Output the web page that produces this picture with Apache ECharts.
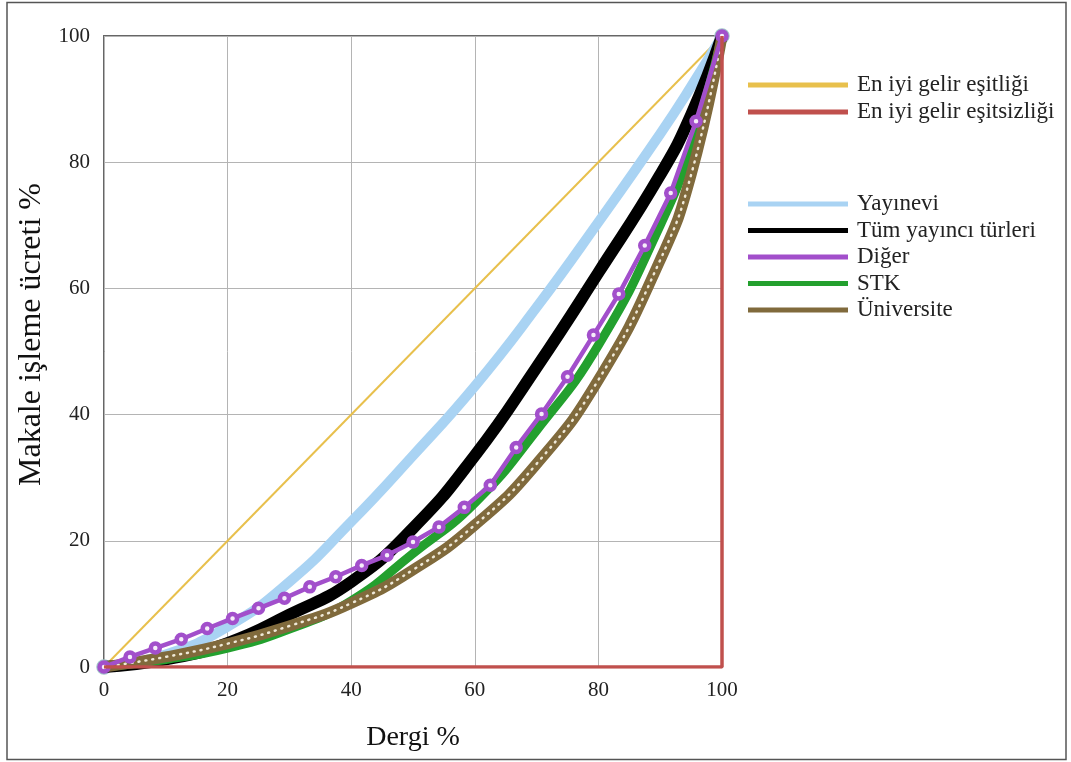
<!DOCTYPE html>
<html>
<head>
<meta charset="utf-8">
<script src="https://cdn.jsdelivr.net/npm/echarts@6/dist/echarts.min.js"></script>
<style>
  html, body { margin: 0; padding: 0; background: #fff; }
  #chart { width: 1071px; height: 762px; }
</style>
</head>
<body>
<div id="chart"></div>
<script>
// x positions (Dergi %) shared by the smooth curves
const curveX = [0, 10, 20, 30, 40, 50, 60, 70, 80, 90, 95, 100]
const yayineviY = [0, 2, 6.4, 13.5, 23, 33.5, 44.5, 57, 70.5, 84.5, 92, 100]
const tumY = [0, 1.2, 3.8, 8.3, 13.5, 22, 33.5, 47.5, 62.5, 78, 87.5, 100]
const stkY = [0, 1.2, 3, 6, 10.5, 18, 26, 37.5, 51, 70, 82.5, 100]
const universiteY = [0, 1.6, 3.7, 6.5, 10.1, 15.4, 22.5, 32.2, 45.5, 64.5, 78, 100]

// Diğer is drawn with its own markers
const digerX = [0, 4.2, 8.3, 12.5, 16.7, 20.8, 25, 29.2, 33.3, 37.5, 41.7, 45.8, 50,
  54.2, 58.3, 62.5, 66.7, 70.8, 75, 79.2, 83.3, 87.5, 91.7, 95.8, 100]
const digerY = [0, 1.6, 3.0, 4.4, 6.1, 7.7, 9.3, 10.9, 12.7, 14.3, 16.1, 17.7, 19.8,
  22.2, 25.3, 28.8, 34.8, 40.1, 46.0, 52.6, 59.1, 66.8, 75.1, 86.5, 100]

// reference lines
const esitlikX = [0, 100]
const esitlikY = [0, 100]
const esitsizlikX = [0, 100, 100]
const esitsizlikY = [0, 0, 100]

const axisTicks = [0, 20, 40, 60, 80, 100]

const font = 'Liberation Serif, Times New Roman, serif'

function pairs(xs, ys) {
  return xs.map((x, i) => [x, ys[i]])
}

const chart = echarts.init(document.getElementById('chart'))

const legendText = { fontFamily: font, fontSize: 23, color: '#222', lineHeight: 26, padding: [0, 0, 0, 4] }

const option = {
  backgroundColor: '#fff',
  animation: false,
  graphic: [{
    type: 'rect',
    shape: { x: 7, y: 2.5, width: 1059, height: 757 },
    style: { fill: 'none', stroke: '#555', lineWidth: 1.5 },
    z: -1
  }],
  grid: {
    left: 104,
    right: 349,
    top: 36,
    bottom: 95,
    show: true,
    borderColor: '#666',
    borderWidth: 2
  },
  legend: [{
    orient: 'vertical',
    left: 743,
    top: 67,
    icon: 'rect',
    itemWidth: 100,
    itemHeight: 5,
    itemGap: 1,
    textStyle: legendText,
    data: ['En iyi gelir eşitliği', 'En iyi gelir eşitsizliği']
  }, {
    orient: 'vertical',
    left: 743,
    top: 186,
    icon: 'rect',
    itemWidth: 100,
    itemHeight: 5,
    itemGap: 0.5,
    textStyle: legendText,
    data: [
      { name: 'Yayınevi', itemStyle: { color: '#a9d3f3', borderWidth: 0 } },
      'Tüm yayıncı türleri',
      { name: 'Diğer', itemStyle: { color: '#a24fcb', borderWidth: 0 } },
      'STK',
      'Üniversite'
    ]
  }],
  xAxis: {
    type: 'value',
    min: axisTicks[0],
    max: axisTicks[axisTicks.length - 1],
    interval: 20,
    name: 'Dergi %',
    nameLocation: 'middle',
    nameGap: 57,
    nameTextStyle: { fontFamily: font, fontSize: 28, color: '#111' },
    axisLine: { show: false },
    axisTick: { show: false },
    axisLabel: { fontFamily: font, fontSize: 21, color: '#222', margin: 13 },
    splitLine: { lineStyle: { color: '#b4b4b4', width: 1 } }
  },
  yAxis: {
    type: 'value',
    min: axisTicks[0],
    max: axisTicks[axisTicks.length - 1],
    interval: 20,
    name: 'Makale işleme ücreti %',
    nameLocation: 'middle',
    nameGap: 54,
    nameTextStyle: { fontFamily: font, fontSize: 32, color: '#111', padding: [0, 0, 0, 34] },
    axisLine: { show: false },
    axisTick: { show: false },
    axisLabel: { fontFamily: font, fontSize: 21, color: '#222', margin: 14 },
    splitLine: { lineStyle: { color: '#b4b4b4', width: 1 } }
  },
  series: [
    {
      name: 'En iyi gelir eşitliği',
      type: 'line',
      data: pairs(esitlikX, esitlikY),
      showSymbol: false,
      itemStyle: { color: '#e8c04c' },
      lineStyle: { color: '#e8c04c', width: 2 },
      z: 2
    },
    {
      name: 'Yayınevi',
      type: 'line',
      data: pairs(curveX, yayineviY),
      smooth: 0.5,
      symbol: 'circle',
      symbolSize: (v, p) => (p.dataIndex === 0 || p.dataIndex === curveX.length - 1) ? 12 : 0,
      itemStyle: { color: '#f4f8f8', borderColor: '#9fc3c8', borderWidth: 3.5 },
      lineStyle: { color: '#a9d3f3', width: 10 },
      z: 3
    },
    {
      name: 'Tüm yayıncı türleri',
      type: 'line',
      data: pairs(curveX, tumY),
      smooth: 0.5,
      showSymbol: false,
      itemStyle: { color: '#000' },
      lineStyle: { color: '#000', width: 12 },
      z: 4
    },
    {
      name: 'STK',
      type: 'line',
      data: pairs(curveX, stkY),
      smooth: 0.5,
      showSymbol: false,
      itemStyle: { color: '#23a02e' },
      lineStyle: { color: '#23a02e', width: 9 },
      z: 5
    },
    {
      name: 'Üniversite',
      type: 'line',
      data: pairs(curveX, universiteY),
      smooth: 0.5,
      showSymbol: false,
      itemStyle: { color: '#806a3c' },
      lineStyle: { color: '#806a3c', width: 11 },
      z: 6
    },
    {
      // light dots that run along the Üniversite band
      name: 'Üniversite noktalar',
      type: 'line',
      data: pairs(curveX, universiteY),
      smooth: 0.5,
      showSymbol: false,
      lineStyle: { color: '#efe9d8', width: 2.5, type: [1, 6], cap: 'round' },
      z: 7
    },
    {
      name: 'Diğer',
      type: 'line',
      data: pairs(digerX, digerY),
      symbol: 'circle',
      symbolSize: 9,
      itemStyle: { color: '#f6eefa', borderColor: '#a24fcb', borderWidth: 4.5 },
      lineStyle: { color: '#a24fcb', width: 4.5 },
      z: 8
    },
    {
      name: 'En iyi gelir eşitsizliği',
      type: 'line',
      data: pairs(esitsizlikX, esitsizlikY),
      showSymbol: false,
      itemStyle: { color: '#c0504d' },
      lineStyle: { color: '#c0504d', width: 3.5 },
      z: 9
    }
  ]
}

chart.setOption(option)
</script>
</body>
</html>
